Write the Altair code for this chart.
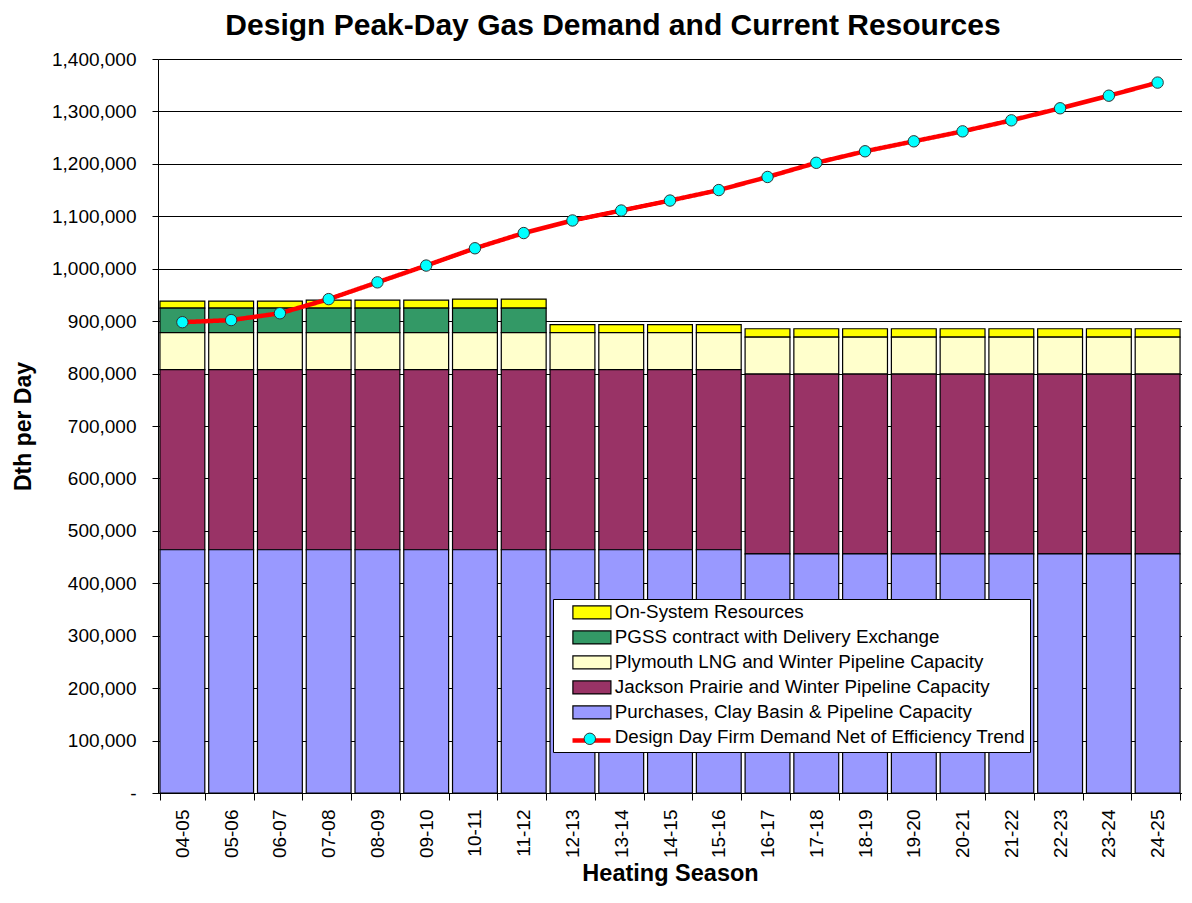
import altair as alt
import pandas as pd

seasons = ["04-05", "05-06", "06-07", "07-08", "08-09", "09-10", "10-11", "11-12",
           "12-13", "13-14", "14-15", "15-16", "16-17", "17-18", "18-19", "19-20",
           "20-21", "21-22", "22-23", "23-24", "24-25"]

purchases = [464000, 464000, 464000, 464000, 464000, 464000, 464000, 464000,
             464000, 464000, 464000, 464000, 456000, 456000, 456000, 456000,
             456000, 456000, 456000, 456000, 456000]
jackson = [343500, 343500, 343500, 343500, 343500, 343500, 343500, 343500,
           343500, 343500, 343500, 343500, 343000, 343000, 343000, 343000,
           343000, 343000, 343000, 343000, 343000]
plymouth = [70500, 70500, 70500, 70500, 70500, 70500, 70500, 70500,
            70500, 70500, 70500, 70500, 70500, 70500, 70500, 70500,
            70500, 70500, 70500, 70500, 70500]
pgss = [47000, 47000, 47000, 47000, 47000, 47000, 47000, 47000,
        0, 0, 0, 0, 0, 0, 0, 0, 0, 0, 0, 0, 0]
onsystem = [13300, 13300, 13300, 15000, 15000, 15000, 17000, 17000,
            15500, 15500, 15500, 15500, 16000, 16000, 16000, 16000,
            16000, 16000, 16000, 16000, 16000]
demand = [898000, 902000, 915000, 942000, 974000, 1006000, 1039000, 1068000,
          1092000, 1111000, 1130000, 1150000, 1175000, 1202000, 1224000, 1243000,
          1262000, 1283000, 1306000, 1330000, 1355000]

series_names = ["On-System Resources",
                "PGSS contract with Delivery Exchange",
                "Plymouth LNG and Winter Pipeline Capacity",
                "Jackson Prairie and Winter Pipeline Capacity",
                "Purchases, Clay Basin & Pipeline Capacity"]
line_name = "Design Day Firm Demand Net of Efficiency Trend"
series_colors = ["#FFFF00", "#339966", "#FFFFCC", "#993366", "#9999FF"]
line_color = "#FF0000"
marker_color = "#00FFFF"
y_ticks = [0, 100000, 200000, 300000, 400000, 500000, 600000, 700000,
           800000, 900000, 1000000, 1100000, 1200000, 1300000, 1400000]

stack_values = [onsystem, pgss, plymouth, jackson, purchases]
rows = []
for si, (name, vals) in enumerate(zip(series_names, stack_values)):
    for s, v in zip(seasons, vals):
        if v > 0:
            rows.append({"season": s, "series": name, "value": v, "ord": 4 - si})
df_bars = pd.DataFrame(rows)
df_line = pd.DataFrame({"season": seasons, "demand": demand,
                        "mk1": ["a"] * len(seasons), "mk2": ["b"] * len(seasons)})

FONT = "Liberation Sans"

x_enc = alt.X("season:N", sort=seasons,
              scale=alt.Scale(domain=seasons, paddingInner=0.08, paddingOuter=0.04),
              axis=alt.Axis(title="Heating Season", labelAngle=270, labelFontSize=19,
                            labelFont=FONT, labelColor="black", tickBand="extent",
                            tickSize=7, tickColor="black", domainColor="black",
                            labelPadding=9, titleFontSize=23.5, titleFont=FONT,
                            titleFontWeight="bold", titleColor="black", titlePadding=4))

y_scale = alt.Scale(domain=[0, 1400000], nice=False, zero=True)
y_axis = alt.Axis(title="Dth per Day", values=y_ticks,
                  labelExpr="datum.value == 0 ? '-' : format(datum.value, ',')",
                  labelFontSize=19, labelFont=FONT, labelColor="black",
                  grid=True, gridColor="black", gridOpacity=1, gridWidth=1,
                  domainColor="black", tickColor="black", tickSize=6, labelPadding=16,
                  titleFontSize=23, titleFont=FONT, titleFontWeight="bold",
                  titleColor="black", titlePadding=16)

sym_rect = "M-1,-1H4.85V1H-1Z"
all_names = series_names + [line_name]

LEG_X = 395
LEG_Y = 540
LEG_PAD = 4
LAB_FS = 18.8
ROW_H = 20
ROW_PAD = 5
line_entry_y = LEG_Y + LEG_PAD + 5 * (ROW_H + ROW_PAD) + ROW_H / 2
line_entry_x = LEG_X + LEG_PAD + 13 + 19

legend_a = alt.Legend(title=None, orient="none", legendX=LEG_X, legendY=LEG_Y,
                      fillColor="white", strokeColor="black", padding=LEG_PAD,
                      symbolType=sym_rect, symbolSize=169, symbolStrokeWidth=1.2,
                      symbolOffset=13, labelOffset=26, labelFontSize=LAB_FS,
                      labelFont=FONT, labelColor="black", rowPadding=ROW_PAD,
                      labelLimit=700, zindex=1)

bars = alt.Chart(df_bars).mark_bar(strokeWidth=1.2).encode(
    x=x_enc,
    y=alt.Y("value:Q", stack="zero", scale=y_scale, axis=y_axis),
    fill=alt.Fill("series:N",
                  scale=alt.Scale(domain=all_names, range=series_colors + ["#FFFFFF"]),
                  legend=legend_a),
    stroke=alt.Stroke("series:N",
                      scale=alt.Scale(domain=all_names,
                                      range=["#000000"] * 5 + ["#FFFFFF"]),
                      legend=legend_a),
    order=alt.Order("ord:Q", sort="ascending"),
)

line = alt.Chart(df_line).mark_line(color=line_color, strokeWidth=4.5).encode(
    x=x_enc,
    y=alt.Y("demand:Q", scale=y_scale, axis=y_axis),
    strokeDash=alt.StrokeDash("mk1:N", scale=alt.Scale(domain=["a"], range=[[1, 0]]),
                              legend=alt.Legend(title=None, orient="none",
                                                legendX=line_entry_x - 19,
                                                legendY=line_entry_y - 19, padding=0,
                                                symbolType="stroke", symbolSize=1444,
                                                symbolStrokeColor=line_color,
                                                symbolStrokeWidth=4.5,
                                                labelExpr="''", labelFontSize=10,
                                                zindex=2)),
)

points = alt.Chart(df_line).mark_point(filled=True, size=130, stroke="#333333",
                                       strokeWidth=1, opacity=1).encode(
    x=x_enc,
    y=alt.Y("demand:Q", scale=y_scale, axis=y_axis),
    color=alt.Color("mk2:N", scale=alt.Scale(domain=["b"], range=[marker_color]),
                    legend=alt.Legend(title=None, orient="none",
                                      legendX=line_entry_x - 5.7,
                                      legendY=line_entry_y - 5.7, padding=0,
                                      symbolType="circle",
                                      symbolSize=130, symbolStrokeColor="#333333",
                                      symbolStrokeWidth=1, symbolFillColor=marker_color,
                                      labelExpr="''", labelFontSize=10, zindex=3)),
)

chart = alt.layer(bars, line, points).properties(
    width=1024, height=734,
    padding={"left": 150, "top": 51, "right": 0, "bottom": 95},
    autosize=alt.AutoSizeParams(type="none"),
    title=alt.TitleParams("Design Peak-Day Gas Demand and Current Resources",
                          fontSize=30, font=FONT, fontWeight="bold", color="black",
                          anchor="middle", frame="group", dx=-57, offset=9),
).configure_view(fill="#C0C0C0", stroke="#808080", strokeWidth=1
).configure(background="white")

chart.save("out.html", embed_options={"renderer": "svg", "actions": False})
